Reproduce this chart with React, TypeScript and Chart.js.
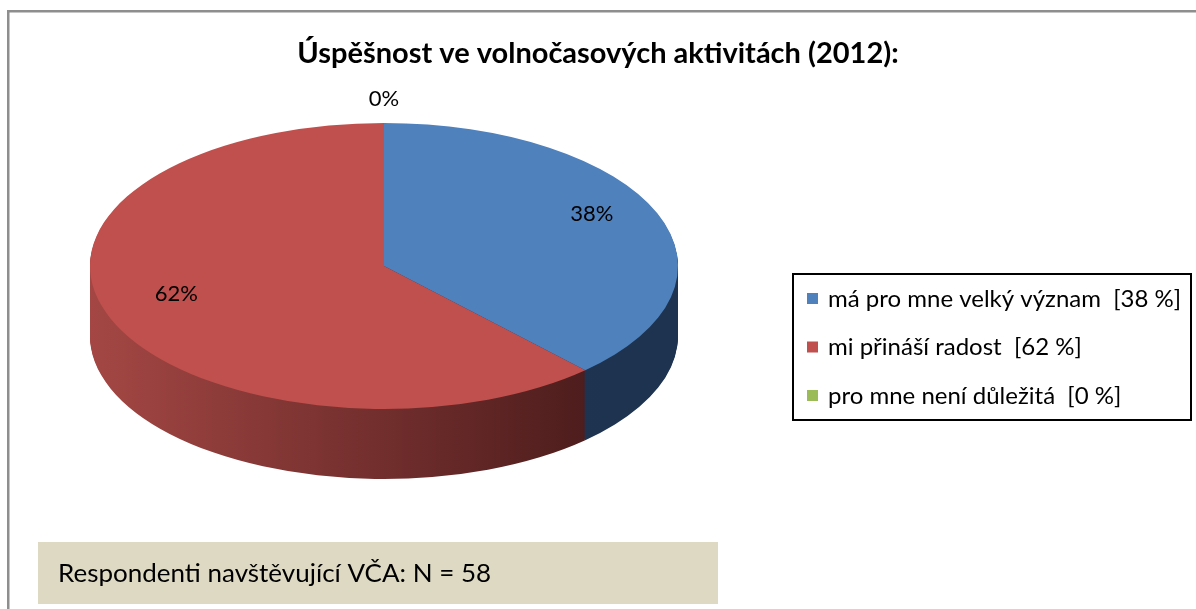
import React, { useEffect, useRef } from "react";
import { Chart, registerables } from "chart.js";

Chart.register(...registerables);

// ---- data ----
const categories: string[] = ["má pro mne velký význam", "mi přináší radost", "pro mne není důležitá"];
const values: number[] = [38, 62, 0];
const sliceLabels: string[] = ["38%", "62%", "0%"];
const topColors: string[] = ["#4f81bd", "#c0504d", "#9bbb59"];
const sideLight: string[] = ["#22395a", "#a44744", "#7a9444"];
const sideDark: string[] = ["#1e3350", "#4a1b1b", "#5d7233"];
const titleText = "Úspěšnost ve volnočasových aktivitách (2012):";
const noteText = "Respondenti navštěvující VČA: N = 58";

// ---- layout ----
const W = 1196;
const H = 609;
const CX = 384;
const CY = 266;
const RX = 294;
const RY = 143;
const DEPTH = 70;
const FONT = "Lato, 'Open Sans', 'Noto Sans', sans-serif";

function stretchedText(ctx: CanvasRenderingContext2D, text: string, x: number, y: number, sx: number) {
  ctx.save();
  ctx.translate(x, y);
  ctx.scale(sx, 1);
  ctx.fillText(text, 0, 0);
  ctx.restore();
}

const pie3d = {
  id: "pie3d",
  beforeDatasetsDraw(chart: any) {
    const ctx: CanvasRenderingContext2D = chart.ctx;
    const meta = chart.getDatasetMeta(0);
    const arcs: any[] = meta.data;
    if (!arcs.length) return;
    const a0 = arcs[0];
    const r = a0.outerRadius;
    const k = RY / r;
    const setT = (dy: number) => ctx.setTransform(1, 0, 0, k, CX - a0.x, CY + dy - k * a0.y);

    const fills = arcs.map((_a, i) => {
      const g = ctx.createLinearGradient(a0.x - r, 0, a0.x + r, 0);
      g.addColorStop(0, sideLight[i]);
      g.addColorStop(0.88, sideDark[i]);
      g.addColorStop(1, sideDark[i]);
      return g;
    });
    for (let dy = DEPTH; dy >= 1; dy -= 1) {
      ctx.save();
      setT(dy);
      arcs.forEach((arc, i) => {
        const fake = Object.create(arc);
        fake.options = {
          backgroundColor: fills[i],
          borderColor: fills[i],
          borderWidth: 0,
          borderAlign: "center",
          borderRadius: 0,
          borderJoinStyle: "round",
          borderDash: [],
          borderDashOffset: 0,
          offset: 0,
          spacing: 0,
          circular: true,
        };
        fake.draw(ctx);
      });
      ctx.restore();
    }
    ctx.save();
    setT(0);
  },
  afterDatasetsDraw(chart: any) {
    chart.ctx.restore();
  },
  afterDraw(chart: any) {
    const ctx: CanvasRenderingContext2D = chart.ctx;
    const meta = chart.getDatasetMeta(0);
    const arcs: any[] = meta.data;
    const k = RY / (arcs[0]?.outerRadius || RX);

    // slice labels
    ctx.save();
    ctx.fillStyle = "#000";
    ctx.font = `22px ${FONT}`;
    ctx.textAlign = "center";
    ctx.textBaseline = "middle";
    arcs.forEach((arc, i) => {
      const mid = (arc.startAngle + arc.endAngle) / 2;
      const r = arc.outerRadius;
      let x: number, y: number;
      if (values[i] === 0) {
        x = CX + Math.cos(mid) * r;
        y = CY + k * Math.sin(mid) * r - 24;
      } else {
        x = CX + Math.cos(mid) * r * 0.76;
        y = CY + k * Math.sin(mid) * r * 0.76 - 12;
      }
      ctx.fillText(sliceLabels[i], x, y);
    });
    ctx.restore();

    // frame
    ctx.save();
    ctx.fillStyle = "#8e8e8e";
    ctx.fillRect(7, 10, W - 7, 2.5);
    ctx.fillRect(7, 10, 2.5, H - 10);
    ctx.restore();

    // legend
    ctx.save();
    ctx.strokeStyle = "#000";
    ctx.lineWidth = 2;
    ctx.strokeRect(793, 274, 398, 146);
    ctx.font = `24px ${FONT}`;
    ctx.textBaseline = "middle";
    ctx.textAlign = "left";
    categories.forEach((c, i) => {
      const yc = 298 + i * 48.5;
      ctx.fillStyle = topColors[i];
      ctx.fillRect(807, yc - 5, 11, 11);
      ctx.fillStyle = "#000";
      stretchedText(ctx, `${c}  [${values[i]} %]`, 828, yc + 1, 1.0);
    });
    ctx.restore();

    // note box
    ctx.save();
    ctx.fillStyle = "#ddd9c3";
    ctx.fillRect(38, 542, 680, 62);
    ctx.fillStyle = "#000";
    ctx.font = `25px ${FONT}`;
    ctx.textBaseline = "middle";
    ctx.textAlign = "left";
    stretchedText(ctx, noteText, 58, 574, 1.04);
    ctx.restore();
  },
};

export default function App() {
  const ref = useRef<HTMLCanvasElement | null>(null);
  useEffect(() => {
    if (!ref.current) return;
    const chart = new Chart(ref.current, {
      type: "pie",
      data: {
        labels: categories,
        datasets: [
          {
            data: values,
            backgroundColor: topColors,
            borderWidth: 0,
            radius: RX,
            clip: false,
          } as any,
        ],
      },
      options: {
        responsive: false,
        maintainAspectRatio: false,
        animation: false,
        events: [],
        devicePixelRatio: 1,
        plugins: {
          legend: { display: false },
          tooltip: { enabled: false },
          title: {
            display: true,
            text: titleText,
            color: "#000",
            font: { family: FONT, size: 29, weight: "bold" },
            padding: { top: 36, bottom: 10 },
          },
        },
      } as any,
      plugins: [pie3d],
    });
    return () => chart.destroy();
  }, []);
  return (
    <div style={{ position: "fixed", left: 0, top: 0, width: W, height: H, background: "#fff" }}>
      <canvas ref={ref} width={W} height={H} style={{ display: "block" }} />
    </div>
  );
}
